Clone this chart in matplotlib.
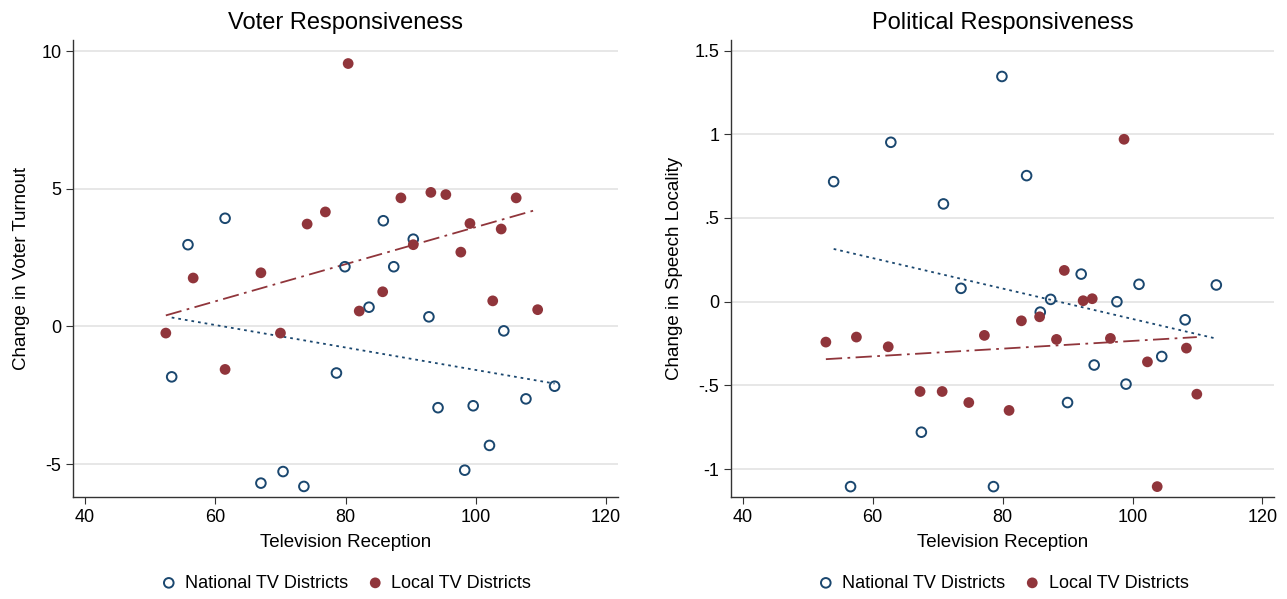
import numpy as np
import matplotlib
matplotlib.use("Agg")
import matplotlib.pyplot as plt

plt.rcParams["font.family"] = ["Liberation Sans", "DejaVu Sans"]
plt.rcParams["axes.unicode_minus"] = False

NAVY = "#1a476f"
MAROON = "#90353b"

# Voter responsiveness: television reception vs change in turnout
voter_nat_x = [61.5, 55.8, 85.8, 90.4, 79.9, 87.4, 83.6, 92.8, 104.3, 53.3,
               78.6, 112.1, 107.7, 94.2, 99.6, 102.1, 98.3, 70.4, 67.0, 73.6]
voter_nat_y = [3.93, 2.97, 3.84, 3.17, 2.17, 2.17, 0.70, 0.35, -0.16, -1.83,
               -1.69, -2.17, -2.63, -2.95, -2.88, -4.32, -5.22, -5.27, -5.69, -5.81]
voter_loc_x = [80.4, 74.1, 76.9, 88.5, 93.1, 95.4, 106.2, 99.1, 103.9, 90.4,
               97.7, 67.0, 56.6, 85.7, 102.6, 82.1, 109.5, 52.4, 70.0, 61.5]
voter_loc_y = [9.55, 3.72, 4.16, 4.67, 4.87, 4.79, 4.67, 3.74, 3.54, 2.97,
               2.70, 1.95, 1.76, 1.26, 0.93, 0.56, 0.61, -0.24, -0.24, -1.56]
# fitted lines (intercept, slope)
voter_nat_fit = (2.50, -0.0408)
voter_loc_fit = (-3.13, 0.0674)

# Political responsiveness: television reception vs change in speech locality
pol_nat_x = [79.9, 62.8, 54.0, 83.7, 70.9, 92.1, 101.0, 112.9, 73.6, 87.4,
             97.6, 85.8, 108.1, 104.5, 94.1, 99.0, 90.0, 67.5, 56.6, 78.6]
pol_nat_y = [1.345, 0.952, 0.717, 0.753, 0.584, 0.165, 0.104, 0.100, 0.080, 0.014,
             0.000, -0.062, -0.108, -0.327, -0.378, -0.492, -0.602, -0.779, -1.104, -1.104]
pol_loc_x = [98.7, 89.5, 92.4, 93.8, 52.8, 57.5, 62.4, 77.2, 82.9, 85.7,
             88.3, 96.6, 108.3, 102.3, 67.3, 70.7, 74.8, 81.0, 109.9, 103.8]
pol_loc_y = [0.970, 0.187, 0.006, 0.018, -0.241, -0.211, -0.269, -0.201, -0.114, -0.090,
             -0.225, -0.219, -0.277, -0.359, -0.536, -0.536, -0.602, -0.649, -0.552, -1.104]
pol_nat_fit = (0.806, -0.00909)
pol_loc_fit = (-0.465, 0.00231)

x_ticks = [40, 60, 80, 100, 120]
voter_ticks = [-5, 0, 5, 10]
voter_labels = ["-5", "0", "5", "10"]
pol_ticks = [-1, -0.5, 0, 0.5, 1, 1.5]
pol_labels = ["-1", "-.5", "0", ".5", "1", "1.5"]


def fit_line(ax, x, fit, color, dashes):
    a, b = fit
    xs = np.array([min(x), max(x)])
    ax.plot(xs, a + b * xs, color=color, lw=1.3, dashes=dashes, zorder=2)


def panel(ax, title, ylabel, nx, ny, nfit, lx, ly, lfit, yticks, ylabels, ylim):
    ax.scatter(nx, ny, s=48, facecolors="none", edgecolors=NAVY, linewidths=1.4,
               label="National TV Districts", zorder=3)
    ax.scatter(lx, ly, s=60, color=MAROON, edgecolors="none",
               label="Local TV Districts", zorder=3)
    fit_line(ax, lx, lfit, MAROON, (9, 3, 1.5, 3))
    fit_line(ax, nx, nfit, NAVY, (1.5, 2.2))

    ax.set_xlim(38.2, 121.8)
    ax.set_ylim(*ylim)
    ax.set_xticks(x_ticks)
    ax.set_yticks(yticks)
    ax.set_yticklabels(ylabels)
    ax.grid(axis="y", color="#e3e3e3", lw=1.2)
    ax.set_axisbelow(True)
    for s in ["top", "right"]:
        ax.spines[s].set_visible(False)
    for s in ["left", "bottom"]:
        ax.spines[s].set_color("#333333")
        ax.spines[s].set_linewidth(1.0)
    ax.tick_params(labelsize=13, length=5, color="#333333")
    ax.set_title(title, fontsize=17, pad=8)
    ax.set_xlabel("Television Reception", fontsize=13.5, labelpad=6)
    ax.set_ylabel(ylabel, fontsize=13.5, labelpad=8)
    ax.legend(loc="center", bbox_to_anchor=(0.5, -0.188), ncol=2, frameon=False,
              fontsize=13, handlelength=1.0, handletextpad=0.4, columnspacing=1.0,
              scatterpoints=1)


fig = plt.figure(figsize=(12.87, 5.99), dpi=100)
ax1 = fig.add_axes([0.057, 0.170, 0.423, 0.763])
ax2 = fig.add_axes([0.568, 0.170, 0.422, 0.763])

panel(ax1, "Voter Responsiveness", "Change in Voter Turnout",
      voter_nat_x, voter_nat_y, voter_nat_fit, voter_loc_x, voter_loc_y, voter_loc_fit,
      voter_ticks, voter_labels, (-6.2, 10.4))
panel(ax2, "Political Responsiveness", "Change in Speech Locality",
      pol_nat_x, pol_nat_y, pol_nat_fit, pol_loc_x, pol_loc_y, pol_loc_fit,
      pol_ticks, pol_labels, (-1.167, 1.562))

fig.savefig("out.png", dpi=100)
